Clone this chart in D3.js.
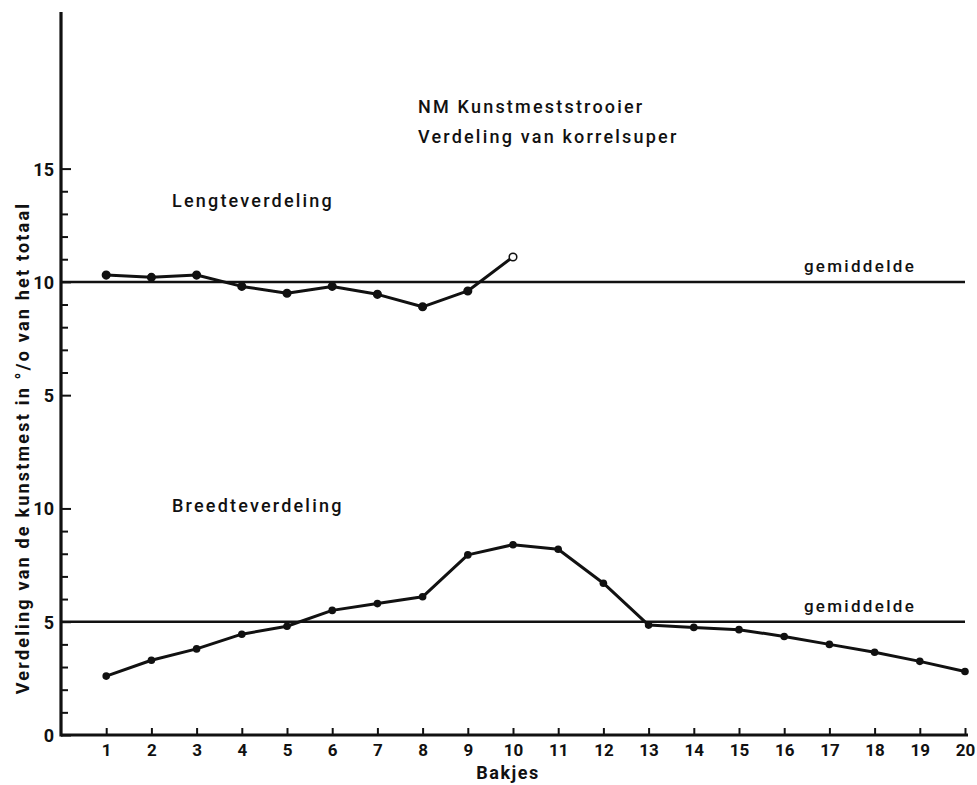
<!DOCTYPE html>
<html lang="nl">
<head>
<meta charset="utf-8">
<title>NM Kunstmeststrooier</title>
<script src="https://cdn.jsdelivr.net/npm/d3@7"></script>
<style>
  body { margin: 0; background: #fff; }
  svg text { font-family: Roboto, "DejaVu Sans", sans-serif; font-weight: 500; fill: #111; }
</style>
</head>
<body>
<div id="chart"></div>
<script>
// bakjes 1..20
var bakjes = d3.range(1, 21)

// Lengteverdeling (bovenste deel, bakjes 1-10)
var lengte = [10.3, 10.2, 10.3, 9.8, 9.5, 9.8, 9.45, 8.9, 9.6, 11.1]

// Breedteverdeling (onderste deel, bakjes 1-20)
var breedte = [2.6, 3.3, 3.8, 4.45, 4.8, 5.5, 5.8, 6.1, 7.95, 8.4,
               8.2, 6.7, 4.85, 4.75, 4.65, 4.35, 4.0, 3.65, 3.25, 2.8]

var gemLengte = 10
var gemBreedte = 5

var lowerTicks = [0, 5, 10]
var upperTicks = [5, 10, 15]
var lowerMinor = [1, 2, 3, 4, 6, 7, 8, 9]
var upperMinor = [6, 7, 8, 9, 11, 12, 13, 14]

var width = 977, height = 785

var svg = d3.select("#chart")
    .append("svg")
    .attr("width", width)
    .attr("height", height)

var x = d3.scaleLinear().domain([0, 20]).range([61, 965])
// lower panel: 0 at bottom; upper panel shares pixel size, its 0 sits on lower 10
var yLow = d3.scaleLinear().domain([0, 32]).range([735, 10])
var yUp = d3.scaleLinear().domain([-10, 22]).range([735, 10])

// y axes (ticks point inward, labels on the left)
function yAxis(scale, vals) {
    return d3.axisLeft(scale).tickValues(vals).tickSizeInner(-10).tickSizeOuter(0).tickPadding(7)
}
function minorAxis(scale, vals) {
    return d3.axisLeft(scale).tickValues(vals).tickSizeInner(-7).tickSizeOuter(0).tickFormat("")
}

var ax = svg.append("g").attr("transform", "translate(" + x(0) + ",0)")
ax.append("g").call(yAxis(yLow, lowerTicks))
ax.append("g").call(yAxis(yUp, upperTicks))
ax.append("g").call(minorAxis(yLow, lowerMinor))
ax.append("g").call(minorAxis(yUp, upperMinor))
ax.selectAll(".domain").remove()
ax.selectAll("line").attr("stroke", "#111").attr("stroke-width", 2)
ax.selectAll("text").style("font-size", "18px").style("font-weight", "700")
    .style("font-family", "Roboto, sans-serif").attr("dy", "0.36em")

// y axis line
svg.append("line")
    .attr("x1", x(0)).attr("x2", x(0))
    .attr("y1", 12).attr("y2", yLow(0) + 1.5)
    .attr("stroke", "#111").attr("stroke-width", 3.2)

// x axis
var xg = svg.append("g").attr("transform", "translate(0," + yLow(0) + ")")
    .call(d3.axisBottom(x).tickValues(bakjes).tickSizeInner(-7).tickSizeOuter(0).tickPadding(9))
xg.select(".domain").remove()
xg.selectAll("line").attr("stroke", "#111").attr("stroke-width", 2)
xg.selectAll("text").style("font-size", "17px").style("font-weight", "700")
    .style("font-family", "Roboto, sans-serif")

svg.append("line")
    .attr("x1", x(0)).attr("x2", 968)
    .attr("y1", yLow(0)).attr("y2", yLow(0))
    .attr("stroke", "#111").attr("stroke-width", 3)

// gemiddelde lines
svg.append("line")
    .attr("x1", x(0)).attr("x2", x(20))
    .attr("y1", yUp(gemLengte)).attr("y2", yUp(gemLengte))
    .attr("stroke", "#111").attr("stroke-width", 2.5)
svg.append("line")
    .attr("x1", x(0)).attr("x2", x(20))
    .attr("y1", yLow(gemBreedte)).attr("y2", yLow(gemBreedte))
    .attr("stroke", "#111").attr("stroke-width", 2.5)

svg.append("text").attr("x", 860).attr("y", yUp(gemLengte) - 10)
    .attr("text-anchor", "middle").style("font-size", "17px").style("letter-spacing", "2.3px").text("gemiddelde")
svg.append("text").attr("x", 860).attr("y", yLow(gemBreedte) - 10)
    .attr("text-anchor", "middle").style("font-size", "17px").style("letter-spacing", "2.3px").text("gemiddelde")

// lines
var lineUp = d3.line().x(function(d, i) { return x(bakjes[i]) }).y(function(d) { return yUp(d) })
var lineLow = d3.line().x(function(d, i) { return x(bakjes[i]) }).y(function(d) { return yLow(d) })

svg.append("path").datum(lengte).attr("d", lineUp)
    .attr("fill", "none").attr("stroke", "#111").attr("stroke-width", 3).attr("stroke-linejoin", "round")
svg.append("path").datum(breedte).attr("d", lineLow)
    .attr("fill", "none").attr("stroke", "#111").attr("stroke-width", 3).attr("stroke-linejoin", "round")

svg.selectAll(".dotUp")
    .data(lengte)
    .enter()
    .append("circle")
    .attr("cx", function(d, i) { return x(bakjes[i]) })
    .attr("cy", function(d) { return yUp(d) })
    .attr("r", 3.8)
    .attr("fill", function(d, i) { return i == lengte.length - 1 ? "#fff" : "#111" })
    .attr("stroke", "#111")
    .attr("stroke-width", 1.5)

svg.selectAll(".dotLow")
    .data(breedte)
    .enter()
    .append("circle")
    .attr("cx", function(d, i) { return x(bakjes[i]) })
    .attr("cy", function(d) { return yLow(d) })
    .attr("r", 3.8)
    .attr("fill", "#111")

// titles
function label(tx, ty, s) {
    return svg.append("text").attr("x", tx).attr("y", ty)
        .style("font-size", "18px").style("letter-spacing", "2.2px").text(s)
}
label(418, 113, "NM Kunstmeststrooier")
label(418, 143, "Verdeling van korrelsuper")
label(172, 207, "Lengteverdeling")
label(172, 512, "Breedteverdeling")

svg.append("text").attr("x", 508).attr("y", 779).attr("text-anchor", "middle")
    .style("font-size", "18px").style("font-weight", "700").style("letter-spacing", "1.5px").text("Bakjes")

svg.append("text")
    .attr("transform", "translate(29,448) rotate(-90)")
    .attr("text-anchor", "middle")
    .style("font-size", "18px")
    .style("font-weight", "700")
    .style("letter-spacing", "2.2px")
    .text("Verdeling van de kunstmest in °/o van het totaal")
</script>
</body>
</html>
